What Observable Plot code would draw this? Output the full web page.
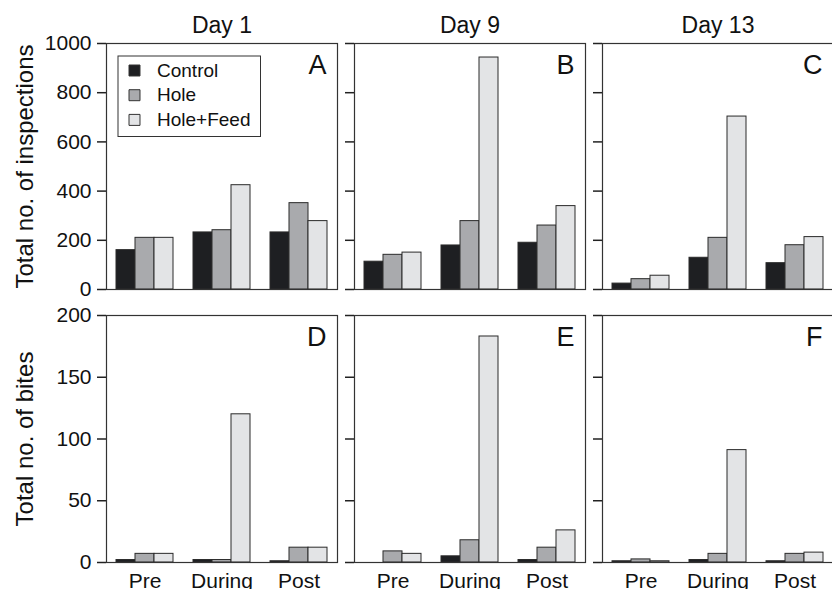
<!DOCTYPE html>
<html><head><meta charset="utf-8">
<script src="https://cdn.jsdelivr.net/npm/d3@7"></script>
<script src="https://cdn.jsdelivr.net/npm/@observablehq/plot@0.6"></script>
<style>
html,body{margin:0;padding:0;background:#fff;overflow:hidden;}
#chart{position:relative;width:832px;height:589px;overflow:hidden;font-family:"Liberation Sans",Arial,sans-serif;background:#fff;}
#chart svg{position:absolute;left:0;top:0;max-width:none !important;}
</style></head><body><div id="chart"></div>
<script>
// ---- data ----
const days = ["Day 1", "Day 9", "Day 13"];
const periods = ["Pre", "During", "Post"];
const treatments = ["Control", "Hole", "Hole+Feed"];
const treatmentColors = ["#1e1f22", "#a9aaad", "#e3e4e6"];
const letters = ["A", "B", "C", "D", "E", "F"];
const inspectionTicks = [0, 200, 400, 600, 800, 1000];
const biteTicks = [0, 50, 100, 150, 200];
const inspectionLabel = "Total no. of inspections";
const biteLabel = "Total no. of bites";
// values listed period by period (Pre, During, Post), each as Control, Hole, Hole+Feed
const inspectionsDay1 = [160, 210, 210, 232, 241, 424, 232, 351, 278];
const inspectionsDay9 = [113, 141, 150, 179, 278, 943, 190, 260, 339];
const inspectionsDay13 = [24, 42, 56, 129, 210, 703, 107, 180, 213];
const bitesDay1 = [2, 7, 7, 2, 2, 120, 1, 12, 12];
const bitesDay9 = [0, 9, 7, 5, 18, 183, 2, 12, 26];
const bitesDay13 = [1, 2.5, 1, 2, 7, 91, 1, 7, 8];

// ---- layout ----
const W = 832, H = 589;
const colFrames = [[106, 337], [353, 585], [602, 833]];
const rowFrames = [[43, 289], [315, 562]];
const font = "Liberation Sans, Arial, Helvetica, sans-serif";
const ink = "#222";

const rows = [
  {values: [inspectionsDay1, inspectionsDay9, inspectionsDay13], domain: [0, 1000], ticks: inspectionTicks, label: inspectionLabel},
  {values: [bitesDay1, bitesDay9, bitesDay13], domain: [0, 200], ticks: biteTicks, label: biteLabel}
];

const chart = document.getElementById("chart");

rows.forEach((row, r) => {
  days.forEach((day, c) => {
    const vals = row.values[c];
    const data = periods.flatMap((p, i) => treatments.map((t, j) => ({period: p, treatment: t, value: vals[i * 3 + j]})));
    const [fl, fr] = colFrames[c];
    const [ft, fb] = rowFrames[r];
    const width = c === 2 ? 840 : W;
    const marks = [
      Plot.barY(data, {fx: "period", x: "treatment", y: "value", fill: "treatment", stroke: "#2a2a2a", strokeWidth: 1}),
      Plot.axisY({ticks: row.ticks, tickSize: 9, tickPadding: 6, fontSize: 21, stroke: ink, strokeWidth: 1.5,
        tickFormat: c === 0 ? (d => String(d)) : (() => ""), label: null, color: "#111"}),
      Plot.frame({facet: "super", stroke: "#333", strokeWidth: 1.2}),
      Plot.text([letters[r * 3 + c]], {facet: "super", text: d => d, frameAnchor: "top-right", dx: -11, dy: 11,
        textAnchor: "end", lineAnchor: "top", fontSize: 27, fill: "#111"})
    ];
    if (r === 0) {
      marks.push(Plot.text([day], {facet: "super", text: d => d, frameAnchor: "top", dy: -11, lineAnchor: "bottom", fontSize: 23, fill: "#111"}));
    } else {
      marks.push(Plot.axisFx({anchor: "bottom", tickSize: 0, tickPadding: 11, fontSize: 21, label: null, color: "#111"}));
    }
    if (c === 0) {
      marks.push(Plot.text([row.label], {facet: "super", text: d => d, frameAnchor: "left", dx: -81, rotate: -90,
        lineAnchor: "middle", textAnchor: "middle", fontSize: 24, fill: "#111"}));
    }
    if (r === 0 && c === 0) {
      marks.push(Plot.frame({facet: "super", insetLeft: 11.5, insetTop: 12.5, insetRight: fr - 260, insetBottom: fb - 136, stroke: "#333", strokeWidth: 1}));
      treatments.forEach((t, i) => {
        marks.push(Plot.dot([t], {facet: "super", frameAnchor: "top-left", dx: 28, dy: 27 + i * 24.7, symbol: "square", r: 6.2,
          fill: d => d, stroke: "#333", strokeWidth: 1}));
        marks.push(Plot.text([t], {facet: "super", text: d => d, frameAnchor: "top-left", dx: 50.5, dy: 27 + i * 24.7,
          textAnchor: "start", lineAnchor: "middle", fontSize: 19, fill: "#111"}));
      });
    }
    const svg = Plot.plot({
      width, height: H,
      marginLeft: fl, marginRight: width - fr, marginTop: ft, marginBottom: H - fb,
      style: {fontFamily: font, background: "transparent", overflow: "visible", maxWidth: "none"},
      fx: {domain: periods, padding: 0, label: null, axis: null},
      x: {domain: treatments, paddingInner: 0, paddingOuter: 0.435, axis: null},
      y: {domain: row.domain, axis: null},
      color: {domain: treatments, range: treatmentColors},
      marks
    });
    chart.appendChild(svg);
  });
});
</script>
</body></html>
